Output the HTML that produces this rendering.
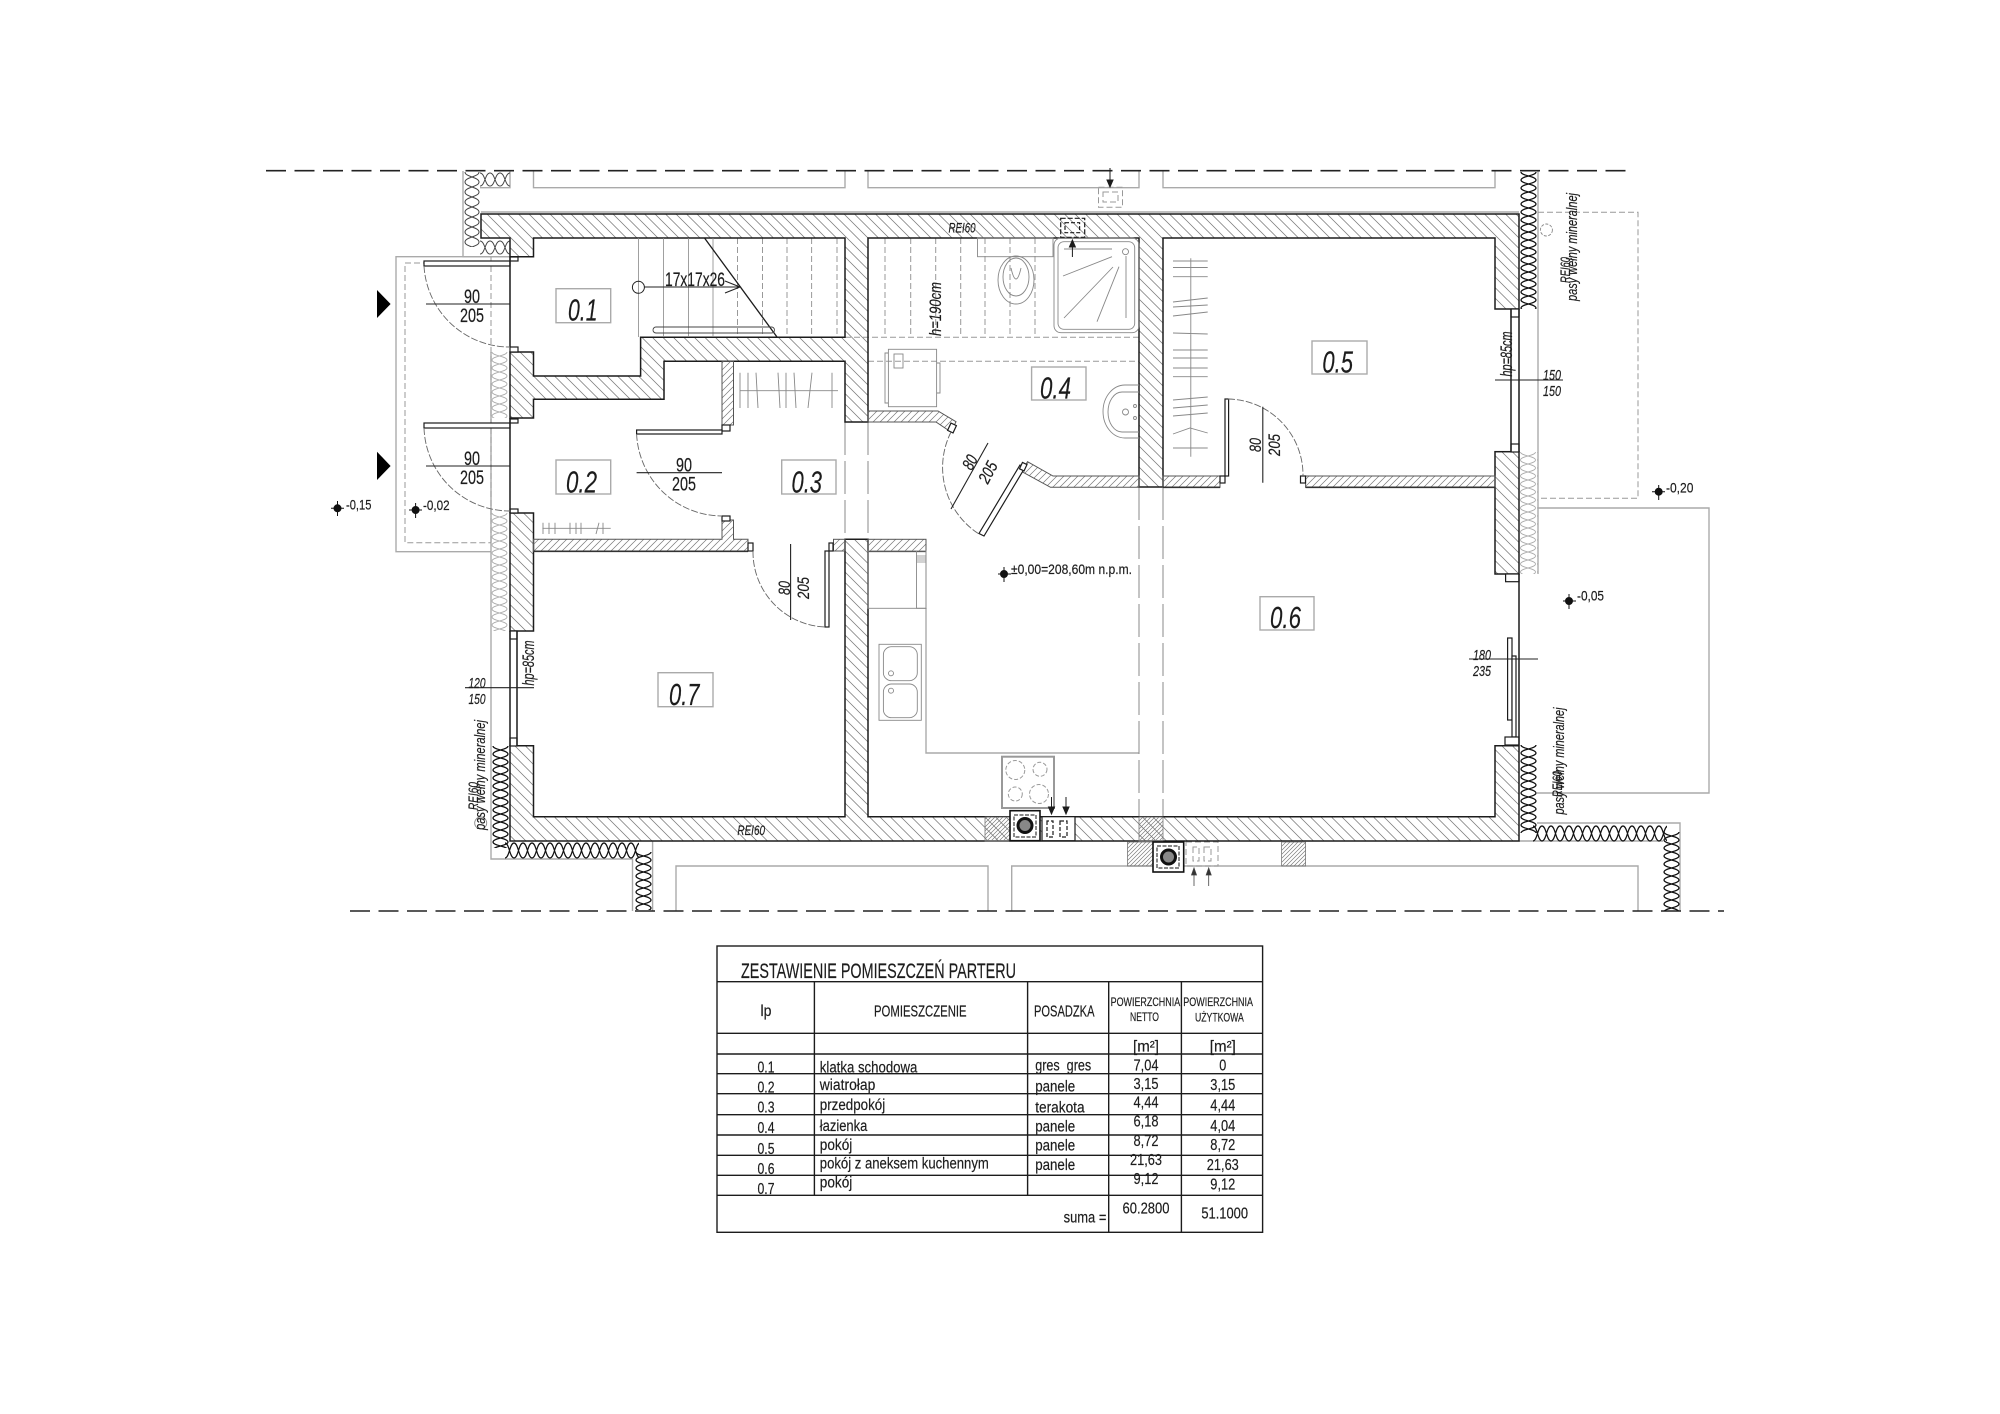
<!DOCTYPE html>
<html><head><meta charset="utf-8"><style>
html,body{margin:0;padding:0;background:#fff}
svg{display:block}
text{font-family:"Liberation Sans","DejaVu Sans",sans-serif;fill:#1c1c1c;stroke:#1c1c1c;stroke-width:.18}
.i{font-style:italic}
.m{text-anchor:middle}
</style></head><body>
<svg width="2000" height="1414" viewBox="0 0 2000 1414" xmlns="http://www.w3.org/2000/svg">
<defs>
<pattern id="h" width="10.5" height="10.5" patternUnits="userSpaceOnUse"><path d="M-1,-1L11.5,11.5M-1,9.5L1,11.5M9.5,-1L11.5,1" stroke="#777" stroke-width=".75" fill="none"/></pattern>
<pattern id="p" width="7" height="7" patternUnits="userSpaceOnUse"><path d="M-1,8L8,-1M-1,1L1,-1M6,8L8,6" stroke="#777" stroke-width=".7" fill="none"/></pattern>
<pattern id="d" width="4" height="4" patternUnits="userSpaceOnUse"><path d="M-1,5L5,-1M-1,1L1,-1M3,5L5,3" stroke="#777" stroke-width=".65" fill="none"/></pattern>
<pattern id="iv" width="17" height="16" patternUnits="userSpaceOnUse"><path d="M1,0C1,4 16,4 16,8C16,12 1,12 1,16M16,0C16,4 1,4 1,8C1,12 16,12 16,16" stroke="#111" stroke-width="1.2" fill="none"/></pattern>
<pattern id="ig" width="16" height="20" patternUnits="userSpaceOnUse"><path d="M1,0C1,5 15,5 15,10C15,15 1,15 1,20M15,0C15,5 1,5 1,10C1,15 15,15 15,20" stroke="#444" stroke-width="1" fill="none"/></pattern>
<pattern id="il" width="17" height="16" patternUnits="userSpaceOnUse"><path d="M1,0C1,4 16,4 16,8C16,12 1,12 1,16M16,0C16,4 1,4 1,8C1,12 16,12 16,16" stroke="#aaa" stroke-width=".8" fill="none"/></pattern>
<pattern id="ih" width="18" height="17" patternUnits="userSpaceOnUse"><path d="M0,1C4.5,1 4.5,16 9,16C13.5,16 13.5,1 18,1M0,16C4.5,16 4.5,1 9,1C13.5,1 13.5,16 18,16" stroke="#111" stroke-width="1.2" fill="none"/></pattern>
<pattern id="ihg" width="20" height="15" patternUnits="userSpaceOnUse"><path d="M0,1C5,1 5,14 10,14C15,14 15,1 20,1M0,14C5,14 5,1 10,1C15,1 15,14 20,14" stroke="#444" stroke-width="1" fill="none"/></pattern>
</defs>

<!-- gray context lines -->
<g fill="none" stroke="#aaa" stroke-width="1.4">
<path d="M463,171V256.7H510M510,171V187.7H480M481,212H1519"/>
<path d="M533.5,171V187.7H845V171M868,171V187.7H1139V171M1163,171V187.7H1495V171"/>
<path d="M510,256.7H396V551.7H491"/>
<path d="M491,352V859H632.5V911M652.6,841V911M676,911V866H988V911M1011.7,911V866H1638V911"/>
<path d="M1538,170V574M1538,508H1709V793H1537M1519,841H1663M1537,823H1680V911"/>
<path d="M926,608V753H1139"/>
<rect x="556" y="288.7" width="54.7" height="34"/><rect x="556" y="460" width="54.7" height="34"/>
<rect x="781.7" y="460" width="54.3" height="34"/><rect x="658" y="672.7" width="55" height="34"/>
<rect x="1031.6" y="367" width="54.4" height="33"/><rect x="1312" y="341" width="55" height="33"/>
<rect x="1260" y="596.7" width="54" height="33.3"/>
</g>
<g fill="none" stroke="#999" stroke-width="1" stroke-dasharray="6 3">
<path d="M510,263H405V542.7H491M491,257V542"/>
<path d="M1538,212.3H1638V498.3H1538"/>
<rect x="1098.5" y="187.3" width="24" height="20"/><rect x="1103" y="192" width="15" height="10"/>
<rect x="1186" y="842" width="32" height="24"/><path d="M1193,847V861h6V847zM1204,847V861h7V847z"/>
</g>
<g fill="none" stroke="#888" stroke-width="1" stroke-dasharray="33 6">
<path d="M845,422V539M868,422V539M1139,487V817M1163,487V817"/>
</g>
<g fill="none" stroke="#999" stroke-width="1" stroke-dasharray="6 3">
<path d="M845,337.3H1139M868,361.3H1139"/>
<path d="M885,238V337M910.7,238V337M935.7,238V337M960.7,238V337M985,238V337M1010,238V337M1035,238V337"/>
<path d="M737.5,238V337M762.5,238V337M787,238V337M811.6,238V337M837,238V337"/>
</g>

<!-- dashed axes -->
<path d="M266,170.7H1626M350,911H1724" stroke="#222" stroke-width="1.6" stroke-dasharray="20 8.5" fill="none"/>

<!-- insulation -->
<g transform="translate(491,352)"><rect width="17" height="66" fill="url(#il)"/></g>
<g transform="translate(491,513)"><rect width="17" height="118" fill="url(#il)"/></g>
<g transform="translate(1519.5,452)"><rect width="18" height="122" fill="url(#il)"/></g>
<g transform="translate(464,172)"><rect width="16" height="75" fill="url(#ig)"/></g>
<g transform="translate(480,172)"><rect width="30" height="15" fill="url(#ihg)"/></g>
<g transform="translate(480,240)"><rect width="30" height="15" fill="url(#ihg)"/></g>
<g transform="translate(1520,172)"><rect width="17" height="137" fill="url(#iv)"/></g>
<g transform="translate(1520,745)"><rect width="17" height="88" fill="url(#iv)"/></g>
<g transform="translate(1533,825)"><rect width="134" height="17" fill="url(#ih)"/></g>
<g transform="translate(1663,832)"><rect width="17" height="79" fill="url(#iv)"/></g>
<g transform="translate(492,746)"><rect width="17" height="102" fill="url(#iv)"/></g>
<g transform="translate(505,842)"><rect width="134" height="17" fill="url(#ih)"/></g>
<g transform="translate(635,852)"><rect width="17" height="58" fill="url(#iv)"/></g>

<!-- walls -->
<g stroke="#1c1c1c" stroke-width="1.5" fill="url(#h)">
<path d="M481,214L1519,214L1519,309L1495,309L1495,238L1163,238L1163,487L1139,487L1139,238L868,238L868,422L845,422L845,361.3L664,361.3L664,399.3L533.5,399.3L533.5,418L510,418L510,352L533.5,352L533.5,376L640.6,376L640.6,337.3L845,337.3L845,238L533.5,238L533.5,256.7L510,256.7L510,238L481,238Z"/>
<path d="M510,745.7L533.5,745.7L533.5,816.7L845,816.7L845,539.3L868,539.3L868,816.7L1495,816.7L1495,745.7L1519,745.7L1519,841L510,841Z"/>
<rect x="510" y="513" width="23.5" height="118"/>
<rect x="1495" y="451.7" width="24" height="122.3"/>
</g>
<g stroke="#555" stroke-width="1" fill="url(#p)">
<path d="M533.5,539.3L722,539.3L722,520L733.5,520L733.5,539.3L748,539.3L748,551.3L533.5,551.3Z"/>
<rect x="722" y="361.3" width="11.5" height="63.7"/>
<rect x="833.5" y="539.3" width="11.5" height="11.7"/>
<rect x="868" y="539.3" width="58" height="12"/>
<path d="M868,411L938,411L956,421.7L951,432L936,422L868,422Z"/>
<path d="M1027.5,461.7L1053,476L1139,476L1139,487.3L1050.5,487.3L1022,471.7Z"/>
<rect x="1163" y="476" width="57" height="11.3"/>
<rect x="1305.6" y="476" width="189.4" height="11.3"/>
</g>
<g stroke="#777" stroke-width=".8" fill="url(#d)">
<rect x="985" y="817" width="25" height="24"/>
<rect x="1139" y="817" width="24" height="24"/>
<rect x="1127.5" y="842" width="25.5" height="24"/>
<rect x="1281.6" y="842" width="24" height="24"/>
</g>
<path d="M534,551.3H748M868,551.3H926M1163,487.3H1220M1305.6,487.3H1495" stroke="#333" stroke-width="1.6"/>

<!-- frames, leaves, windows -->
<g fill="#fff" stroke="#1c1c1c" stroke-width="1.2">
<rect x="510" y="257" width="8" height="4"/><rect x="510" y="347" width="8" height="5"/>
<rect x="510" y="419" width="8" height="4"/><rect x="510" y="509" width="8" height="4"/>
<rect x="424" y="261" width="86" height="5"/><rect x="424" y="423" width="86" height="5"/>
<rect x="722" y="425" width="8" height="6"/><rect x="636.6" y="430" width="85.4" height="4"/>
<rect x="722" y="516" width="8" height="5"/><rect x="748" y="543" width="5" height="8"/>
<rect x="829" y="543" width="4" height="8"/><rect x="825" y="551" width="4" height="76"/>
<rect x="1220" y="476" width="5" height="7"/><rect x="1225" y="399" width="3.6" height="77"/>
<rect x="1300.5" y="476" width="5" height="7"/>
<path d="M1020,465L1025,467.5L984,536L979,533.5Z"/>
<rect x="949" y="424" width="6" height="8" transform="rotate(25 952 428)"/>
<rect x="1021" y="463" width="5" height="7" transform="rotate(25 1023 466)"/>
<rect x="1505.6" y="574" width="13.4" height="7.7"/>
<rect x="1507.6" y="638" width="4.4" height="82"/><rect x="1512" y="656" width="4" height="81"/>
<rect x="1505" y="737" width="14" height="8"/>
<rect x="1511" y="309" width="8" height="8"/><rect x="1511" y="444" width="8" height="8"/>
<rect x="510" y="631" width="7" height="8"/><rect x="510" y="738" width="7" height="8"/>
</g>
<path d="M510,257V347M510,418V513M1519,574V745M1519,309V452M510,631V746M517,631V746M1511,309V452" stroke="#1c1c1c" stroke-width="1.5" fill="none"/>

<!-- door arcs -->
<g fill="none" stroke="#666" stroke-width=".9" stroke-dasharray="7 2">
<path d="M424,266A86,86 0 0 0 510,347"/>
<path d="M424,428A86,86 0 0 0 510,511"/>
<path d="M636.6,434A86,86 0 0 0 722,516"/>
<path d="M753,551A75,75 0 0 0 825,627"/>
<path d="M1228,399A76,76 0 0 1 1303,476"/>
<path d="M951,432A79,79 0 0 0 979,534"/>
</g>

<!-- stairs -->
<path d="M638.4,238V337M663.4,238V337M688.4,238V337M713,238V337" stroke="#888" stroke-width=".8"/>
<path d="M704.5,238L777,337" stroke="#1c1c1c" stroke-width="1.3"/>
<rect x="653" y="327" width="121.5" height="6" rx="3" fill="none" stroke="#444" stroke-width=".9"/>
<circle cx="638.4" cy="287.3" r="6" fill="none" stroke="#222" stroke-width="1"/>
<path d="M644,287H740M725,281L740,287L725,293" fill="none" stroke="#222" stroke-width="1.1"/>

<!-- fixtures -->
<g fill="none" stroke="#888" stroke-width=".9">
<rect x="888.4" y="349.3" width="48.2" height="57.4"/><rect x="894" y="354" width="9" height="14"/>
<path d="M888,353H885V403H888M937,363H940V393H937"/>
<rect x="977.5" y="238" width="75.5" height="18.7"/>
<ellipse cx="1016" cy="280" rx="18" ry="24"/><ellipse cx="1016" cy="277" rx="13" ry="19"/>
<path d="M1011,268Q1016,290 1021,268"/>
<rect x="1054" y="238" width="85" height="94.7" rx="7"/><rect x="1058" y="241.7" width="76.7" height="87.6" rx="6"/>
<circle cx="1125.5" cy="251.7" r="3"/>
<path d="M1063,276L1112,256.7M1064,318L1113,267M1097,321.7L1119,266.7M1126,318V256M1064,249H1112"/>
<path d="M1139,385H1125A22,26.5 0 0 0 1125,438H1139"/><path d="M1139,392H1122A14,20 0 0 0 1122,432H1139"/>
<circle cx="1125.5" cy="412" r="3"/><circle cx="1135" cy="406" r="1.5"/><circle cx="1135" cy="418" r="1.5"/>
<path d="M1190.8,258.3V456.7M1173,261H1207.7M1173,267.5H1207.7M1173,276.7H1207.7M1173,302L1207.7,298M1173,307L1207.7,305M1173,316L1207.7,312M1173,333L1207.7,334M1173,350H1207.7M1173,358H1207.7M1173,368H1207.7M1173,376.7H1207.7M1173,400L1207.7,397M1173,408L1207.7,405M1173,416L1207.7,413M1173,434L1190,428L1207.7,433M1173,448H1207.7"/>
<path d="M740,390.7H838M740,372.7V408M748,372.7V408M756,372.7L758,408M778,372.7L780,408M786,372.7V408M794,372.7L796,408M812,372.7L808,408M832,372.7V408"/>
<path d="M542.4,528.3H610.7M543,522.7V534M549,522.7V534M555,522.7V534M570,522.7V534M576,522.7V534M581,522.7V534M596,534L599,522.7M603,522.7V534"/>
<rect x="868" y="551" width="58" height="57.3"/><rect x="916.5" y="551" width="9.5" height="57.3"/>
<path d="M916.5,556H926M916.5,558H926M916.5,560H926M916.5,562H926" stroke-width=".7"/>
<rect x="879" y="644.3" width="42.3" height="76"/>
<rect x="883.4" y="646.7" width="33.9" height="34" rx="8"/><rect x="883.4" y="684" width="33.9" height="33.7" rx="8"/>
<circle cx="891" cy="673.3" r="2.5"/><circle cx="891" cy="690.7" r="2.5"/>
<circle cx="1546.4" cy="230" r="6" stroke-dasharray="3 1.5"/><circle cx="480.7" cy="823" r="6"/>
</g>
<rect x="1002" y="756.7" width="52" height="51.3" fill="none" stroke="#999" stroke-width="2"/>
<g fill="none" stroke="#999" stroke-width="1" stroke-dasharray="4 2">
<circle cx="1015.3" cy="770" r="9.5"/><circle cx="1040" cy="769.3" r="7"/><circle cx="1015.3" cy="794" r="7"/><circle cx="1039" cy="794" r="9.5"/>
</g>

<!-- vents, chimneys -->
<g fill="none" stroke="#1c1c1c" stroke-width="1.2">
<rect x="1060.7" y="218.3" width="24" height="19" stroke-dasharray="5 2"/><rect x="1065" y="222.7" width="14.6" height="10" stroke-dasharray="4 2"/>
<rect x="1042" y="816.7" width="33" height="24" fill="#fff"/><path d="M1047,821V837h6V821zM1060,821V837h7V821z" stroke-dasharray="4 2"/>
</g>
<g fill="#fff" stroke="#111" stroke-width="1.6">
<rect x="1010" y="810.7" width="30" height="30"/><rect x="1014" y="815" width="22" height="22" stroke-width="1" stroke-dasharray="4 1.5"/>
<rect x="1153" y="842" width="30.7" height="30"/><rect x="1157" y="846" width="22" height="22" stroke-width="1" stroke-dasharray="4 1.5"/>
</g>
<circle cx="1025" cy="825.5" r="7" fill="#888" stroke="#111" stroke-width="3"/>
<circle cx="1168.5" cy="857" r="7" fill="#888" stroke="#111" stroke-width="3"/>

<!-- arrows -->
<g stroke="#1c1c1c" stroke-width="1" fill="#1c1c1c">
<path d="M1110,168V183"/><path d="M1107,180H1113L1110,187Z"/>
<path d="M1072.4,257V245"/><path d="M1069.4,247H1075.4L1072.4,240Z"/>
<path d="M1051.5,797V809"/><path d="M1048.5,807H1054.5L1051.5,814Z"/>
<path d="M1066,797V809"/><path d="M1063,807H1069L1066,814Z"/>
</g>
<g stroke="#444" stroke-width=".8" fill="#333">
<path d="M1194,886V873"/><path d="M1191.5,875H1196.5L1194,868Z"/>
<path d="M1208.7,886V873"/><path d="M1206.2,875H1211.2L1208.7,868Z"/>
</g>
<path d="M377,290L390.6,304L377,318ZM377,451.7L390.6,466L377,480Z" fill="#000"/>

<!-- level marks -->
<g stroke="#111" stroke-width="1" fill="#111">
<circle cx="337.5" cy="508.3" r="3.5"/><path d="M331,508.3H344M337.5,501V516"/>
<circle cx="415.6" cy="510" r="3.5"/><path d="M409,510H422M415.6,503V518"/>
<circle cx="1004" cy="574" r="3.5"/><path d="M998,574H1011M1004,567V582"/>
<circle cx="1658.7" cy="491.7" r="3.5"/><path d="M1652,491.7H1665M1658.7,485V500"/>
<circle cx="1569" cy="601" r="3.5"/><path d="M1563,601H1576M1569,594V609"/>
</g>

<!-- dimension lines -->
<g stroke="#222" stroke-width="1.1" fill="none">
<path d="M426,304H510M426,466H510M636.6,472.7H722M790.6,544V620M1262.8,406.7V482.7M988,443L951,509M1495,380H1563M465,687.7H534M1469,659H1538"/>
</g>

<!-- dim text -->
<g font-size="19">
<text x="472" y="303" class="m" textLength="16" lengthAdjust="spacingAndGlyphs">90</text>
<text x="472" y="322" class="m" textLength="24" lengthAdjust="spacingAndGlyphs">205</text>
<text x="472" y="465" class="m" textLength="16" lengthAdjust="spacingAndGlyphs">90</text>
<text x="472" y="484" class="m" textLength="24" lengthAdjust="spacingAndGlyphs">205</text>
<text x="684" y="471.7" class="m" textLength="16" lengthAdjust="spacingAndGlyphs">90</text>
<text x="684" y="490.7" class="m" textLength="24" lengthAdjust="spacingAndGlyphs">205</text>
</g>
<g font-size="17" class="i">
<text transform="translate(790,588) rotate(-90)" class="m i" textLength="14" lengthAdjust="spacingAndGlyphs">80</text>
<text transform="translate(809,588) rotate(-90)" class="m i" textLength="22" lengthAdjust="spacingAndGlyphs">205</text>
<text transform="translate(1261,445) rotate(-90)" class="m i" textLength="14" lengthAdjust="spacingAndGlyphs">80</text>
<text transform="translate(1280,445) rotate(-90)" class="m i" textLength="22" lengthAdjust="spacingAndGlyphs">205</text>
<text transform="translate(975,465) rotate(-62)" class="m i" textLength="14" lengthAdjust="spacingAndGlyphs">80</text>
<text transform="translate(993,475) rotate(-62)" class="m i" textLength="22" lengthAdjust="spacingAndGlyphs">205</text>
<text transform="translate(1512,354) rotate(-90)" class="m i" textLength="45" lengthAdjust="spacingAndGlyphs">hp=85cm</text>
<text transform="translate(534,663) rotate(-90)" class="m i" textLength="45" lengthAdjust="spacingAndGlyphs">hp=85cm</text>
<text transform="translate(941,309) rotate(-90)" class="m i" textLength="54" lengthAdjust="spacingAndGlyphs">h=190cm</text>
</g>
<g font-size="15" class="i">
<text x="1552" y="380" class="m i" textLength="18" lengthAdjust="spacingAndGlyphs">150</text>
<text x="1552" y="396" class="m i" textLength="18" lengthAdjust="spacingAndGlyphs">150</text>
<text x="477" y="688" class="m i" textLength="17" lengthAdjust="spacingAndGlyphs">120</text>
<text x="477" y="704" class="m i" textLength="17" lengthAdjust="spacingAndGlyphs">150</text>
<text x="1482" y="660" class="m i" textLength="18" lengthAdjust="spacingAndGlyphs">180</text>
<text x="1482" y="676" class="m i" textLength="18" lengthAdjust="spacingAndGlyphs">235</text>
</g>
<text x="665" y="286" font-size="19" textLength="60" lengthAdjust="spacingAndGlyphs">17x17x26</text>

<!-- level text -->
<g font-size="14">
<text x="346" y="509.3" textLength="25.4" lengthAdjust="spacingAndGlyphs">-0,15</text>
<text x="423" y="510" textLength="26.6" lengthAdjust="spacingAndGlyphs">-0,02</text>
<text x="1011" y="574" textLength="121" lengthAdjust="spacingAndGlyphs">±0,00=208,60m n.p.m.</text>
<text x="1666" y="492.7" textLength="27.4" lengthAdjust="spacingAndGlyphs">-0,20</text>
<text x="1577" y="600.7" textLength="27" lengthAdjust="spacingAndGlyphs">-0,05</text>
</g>

<!-- REI & mineral wool -->
<g font-size="14" class="i">
<text x="948.5" y="232.3" class="i" textLength="27" lengthAdjust="spacingAndGlyphs">REI60</text>
<text x="737.4" y="835" class="i" textLength="27.6" lengthAdjust="spacingAndGlyphs">REI60</text>
<text transform="translate(1570,270) rotate(-90)" class="m i" textLength="26" lengthAdjust="spacingAndGlyphs">REI60</text>
<text transform="translate(478,796) rotate(-90)" class="m i" textLength="28" lengthAdjust="spacingAndGlyphs">REI60</text>
<text transform="translate(1562,784) rotate(-90)" class="m i" textLength="26" lengthAdjust="spacingAndGlyphs">REI60</text>
</g>
<g font-size="15" class="i">
<text transform="translate(1577,247) rotate(-90)" class="m i" textLength="108" lengthAdjust="spacingAndGlyphs">pasy wełny mineralnej</text>
<text transform="translate(485,775) rotate(-90)" class="m i" textLength="110" lengthAdjust="spacingAndGlyphs">pasy wełny mineralnej</text>
<text transform="translate(1564,761) rotate(-90)" class="m i" textLength="107" lengthAdjust="spacingAndGlyphs">pasy wełny mineralnej</text>
</g>

<!-- room labels -->
<g font-size="31" class="i">
<text x="568" y="320.7" class="i" textLength="29.5" lengthAdjust="spacingAndGlyphs">0.1</text>
<text x="566" y="492.7" class="i" textLength="31" lengthAdjust="spacingAndGlyphs">0.2</text>
<text x="791.5" y="492.7" class="i" textLength="30.5" lengthAdjust="spacingAndGlyphs">0.3</text>
<text x="1040" y="398.3" class="i" textLength="31" lengthAdjust="spacingAndGlyphs">0.4</text>
<text x="1322.4" y="372.7" class="i" textLength="30.6" lengthAdjust="spacingAndGlyphs">0.5</text>
<text x="1270" y="628" class="i" textLength="31" lengthAdjust="spacingAndGlyphs">0.6</text>
<text x="669" y="705" class="i" textLength="30.5" lengthAdjust="spacingAndGlyphs">0.7</text>
</g>

<!-- table -->
<g fill="none" stroke="#1c1c1c" stroke-width="1.4">
<rect x="717" y="946" width="545.6" height="286.3"/>
<path d="M717,981.7H1262.6M717,1033.3H1262.6M717,1054H1262.6M717,1073.7H1262.6M717,1093.7H1262.6M717,1114.7H1262.6M717,1135H1262.6M717,1155.3H1262.6M717,1175.3H1262.6M717,1195.3H1262.6"/>
<path d="M814.4,981.7V1195.3M1027.6,981.7V1195.3M1108.7,981.7V1232.3M1181.4,981.7V1232.3"/>
</g>
<text x="741" y="978" font-size="21" textLength="275" lengthAdjust="spacingAndGlyphs">ZESTAWIENIE POMIESZCZEŃ PARTERU</text>
<g font-size="15.5">
<text x="766" y="1016" class="m" textLength="11" lengthAdjust="spacingAndGlyphs">lp</text>
<text x="874" y="1016.7" textLength="92.6" lengthAdjust="spacingAndGlyphs">POMIESZCZENIE</text>
<text x="1034" y="1016.7" textLength="60.5" lengthAdjust="spacingAndGlyphs">POSADZKA</text>
<text x="1146" y="1051.7" class="m" textLength="26" lengthAdjust="spacingAndGlyphs">[m²]</text>
<text x="1222.8" y="1051.7" class="m" textLength="26" lengthAdjust="spacingAndGlyphs">[m²]</text>
<text x="766" y="1072.7" class="m" textLength="17" lengthAdjust="spacingAndGlyphs">0.1</text>
<text x="766" y="1092.7" class="m" textLength="17" lengthAdjust="spacingAndGlyphs">0.2</text>
<text x="766" y="1112.7" class="m" textLength="17" lengthAdjust="spacingAndGlyphs">0.3</text>
<text x="766" y="1133" class="m" textLength="17" lengthAdjust="spacingAndGlyphs">0.4</text>
<text x="766" y="1154" class="m" textLength="17" lengthAdjust="spacingAndGlyphs">0.5</text>
<text x="766" y="1174" class="m" textLength="17" lengthAdjust="spacingAndGlyphs">0.6</text>
<text x="766" y="1194" class="m" textLength="17" lengthAdjust="spacingAndGlyphs">0.7</text>
<text x="819.8" y="1072.7" textLength="97.6" lengthAdjust="spacingAndGlyphs">klatka schodowa</text>
<text x="819.8" y="1090" textLength="55.5" lengthAdjust="spacingAndGlyphs">wiatrołap</text>
<text x="819.8" y="1110" textLength="65.4" lengthAdjust="spacingAndGlyphs">przedpokój</text>
<text x="819.8" y="1131" textLength="47.5" lengthAdjust="spacingAndGlyphs">łazienka</text>
<text x="819.8" y="1150" textLength="32.5" lengthAdjust="spacingAndGlyphs">pokój</text>
<text x="819.8" y="1168.3" textLength="169" lengthAdjust="spacingAndGlyphs">pokój z aneksem kuchennym</text>
<text x="819.8" y="1187.3" textLength="32.5" lengthAdjust="spacingAndGlyphs">pokój</text>
<text x="1035.2" y="1070.7" textLength="56" lengthAdjust="spacingAndGlyphs" xml:space="preserve">gres  gres</text>
<text x="1035.2" y="1091.7" textLength="40" lengthAdjust="spacingAndGlyphs">panele</text>
<text x="1035.2" y="1112.7" textLength="49.4" lengthAdjust="spacingAndGlyphs">terakota</text>
<text x="1035.2" y="1131.7" textLength="40" lengthAdjust="spacingAndGlyphs">panele</text>
<text x="1035.2" y="1150.7" textLength="40" lengthAdjust="spacingAndGlyphs">panele</text>
<text x="1035.2" y="1170" textLength="40" lengthAdjust="spacingAndGlyphs">panele</text>
<text x="1146" y="1070.7" class="m" textLength="25" lengthAdjust="spacingAndGlyphs">7,04</text>
<text x="1146" y="1089" class="m" textLength="25" lengthAdjust="spacingAndGlyphs">3,15</text>
<text x="1146" y="1107.7" class="m" textLength="25" lengthAdjust="spacingAndGlyphs">4,44</text>
<text x="1146" y="1126.7" class="m" textLength="25" lengthAdjust="spacingAndGlyphs">6,18</text>
<text x="1146" y="1146" class="m" textLength="25" lengthAdjust="spacingAndGlyphs">8,72</text>
<text x="1146" y="1165" class="m" textLength="32" lengthAdjust="spacingAndGlyphs">21,63</text>
<text x="1146" y="1184" class="m" textLength="25" lengthAdjust="spacingAndGlyphs">9,12</text>
<text x="1146" y="1213.3" class="m" textLength="47" lengthAdjust="spacingAndGlyphs">60.2800</text>
<text x="1222.8" y="1070.7" class="m" textLength="7" lengthAdjust="spacingAndGlyphs">0</text>
<text x="1222.8" y="1090" class="m" textLength="25" lengthAdjust="spacingAndGlyphs">3,15</text>
<text x="1222.8" y="1110.7" class="m" textLength="25" lengthAdjust="spacingAndGlyphs">4,44</text>
<text x="1222.8" y="1131" class="m" textLength="25" lengthAdjust="spacingAndGlyphs">4,04</text>
<text x="1222.8" y="1150" class="m" textLength="25" lengthAdjust="spacingAndGlyphs">8,72</text>
<text x="1222.8" y="1170" class="m" textLength="32" lengthAdjust="spacingAndGlyphs">21,63</text>
<text x="1222.8" y="1189.3" class="m" textLength="25" lengthAdjust="spacingAndGlyphs">9,12</text>
<text x="1224.7" y="1218.3" class="m" textLength="46.7" lengthAdjust="spacingAndGlyphs">51.1000</text>
<text x="1063.6" y="1222.7" textLength="42.8" lengthAdjust="spacingAndGlyphs">suma =</text>
</g>
<g font-size="12">
<text x="1110.6" y="1006" textLength="69.6" lengthAdjust="spacingAndGlyphs">POWIERZCHNIA</text>
<text x="1130" y="1021" textLength="29" lengthAdjust="spacingAndGlyphs">NETTO</text>
<text x="1183.3" y="1006" textLength="69.7" lengthAdjust="spacingAndGlyphs">POWIERZCHNIA</text>
<text x="1195" y="1021.7" textLength="48.8" lengthAdjust="spacingAndGlyphs">UŻYTKOWA</text>
</g>
</svg>
</body></html>
